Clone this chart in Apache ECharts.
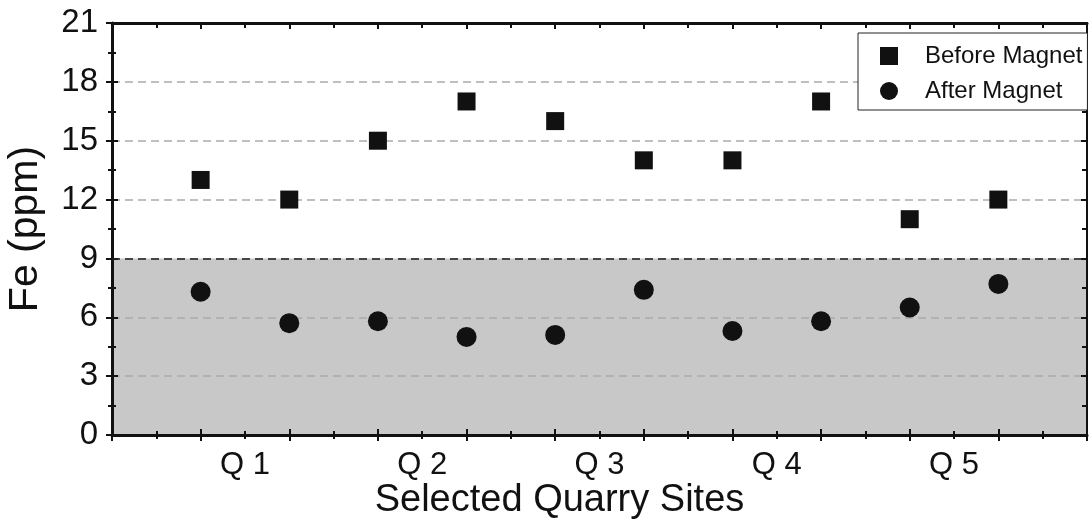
<!DOCTYPE html>
<html>
<head>
<meta charset="utf-8">
<script src="https://cdn.jsdelivr.net/npm/echarts@6/dist/echarts.min.js"></script>
<style>
  html, body { margin: 0; padding: 0; background: #fff; }
  #chart { width: 1089px; height: 523px; }
</style>
</head>
<body>
<div id="chart"></div>
<script>
// ---- data ----
const sites = ['Q 1', 'Q 2', 'Q 3', 'Q 4', 'Q 5'];
const samplePositions = [1, 2, 3, 4, 5, 6, 7, 8, 9, 10];
const beforeMagnet = [13, 12, 15, 17, 16, 14, 14, 17, 11, 12];
const afterMagnet = [7.3, 5.7, 5.8, 5.0, 5.1, 7.4, 5.3, 5.8, 6.5, 7.7];
const yTicks = [0, 3, 6, 9, 12, 15, 18, 21];
const limitValue = 9;
const seriesNames = ['Before Magnet', 'After Magnet'];

const FONT = 'Liberation Sans, Arial, Helvetica, sans-serif';
const INK = '#111111';

const chart = echarts.init(document.getElementById('chart'));

const xMin = 0, xMax = 11;
const yMin = yTicks[0], yMax = yTicks[yTicks.length - 1], yStep = yTicks[1] - yTicks[0];

function siteLabel(v) {
  const k = (v - 1.5) / 2;
  if (Number.isInteger(k) && k >= 0 && k < sites.length) return sites[k];
  return '';
}

const bandColors = yTicks.slice(0, -1).map(t => t < limitValue ? '#c8c8c8' : 'rgba(255,255,255,0)');

const baseX = { type: 'value', min: xMin, max: xMax, interval: 1, gridIndex: 0, splitLine: { show: false } };
const baseY = { type: 'value', min: yMin, max: yMax, interval: yStep, gridIndex: 0 };

const option = {
  animation: false,
  backgroundColor: '#fff',
  grid: { left: 112, right: 2, top: 23, bottom: 88, containLabel: false, outerBoundsMode: 'none' },
  legend: {
    orient: 'vertical',
    left: 858, top: 33,
    backgroundColor: '#fff',
    borderColor: '#222', borderWidth: 1, borderRadius: 0,
    padding: [11, 5, 7, 22],
    itemWidth: 18, itemHeight: 18, itemGap: 11,
    textStyle: { fontFamily: FONT, fontSize: 24, color: INK, padding: [0, 0, 0, 22] },
    data: [
      { name: seriesNames[0], icon: 'rect', itemStyle: { color: INK, opacity: 1 } },
      { name: seriesNames[1], icon: 'circle', itemStyle: { color: INK, opacity: 1 } }
    ]
  },
  xAxis: [
    Object.assign({}, baseX, {
      position: 'bottom',
      name: 'Selected Quarry Sites', nameLocation: 'middle', nameGap: 47,
      nameTextStyle: { fontFamily: FONT, fontSize: 38, color: INK, padding: [0, 80, 0, 0] },
      axisLine: { show: true, onZero: false, lineStyle: { color: INK, width: 3 } },
      axisTick: { show: true, inside: false, length: 6, lineStyle: { color: INK, width: 2 } },
      minorTick: { show: true, splitNumber: 2, length: 4, lineStyle: { color: INK, width: 2 } },
      axisLabel: { show: false }
    }),
    Object.assign({}, baseX, {
      position: 'bottom',
      axisLine: { show: false, onZero: false },
      axisTick: { show: true, inside: true, length: 6, lineStyle: { color: INK, width: 2 } },
      minorTick: { show: true, splitNumber: 2, length: 4, lineStyle: { color: INK, width: 2 } },
      axisLabel: { show: false }
    }),
    Object.assign({}, baseX, {
      position: 'bottom', interval: 0.5,
      axisLine: { show: false, onZero: false },
      axisTick: { show: false },
      axisLabel: { show: true, margin: 15, fontFamily: FONT, fontSize: 31, color: INK, formatter: siteLabel, showMinLabel: true, showMaxLabel: true }
    }),
    Object.assign({}, baseX, {
      position: 'top',
      axisLine: { show: true, onZero: false, lineStyle: { color: INK, width: 3 } },
      axisTick: { show: true, inside: true, length: 6, lineStyle: { color: INK, width: 2 } },
      minorTick: { show: true, splitNumber: 2, length: 5, lineStyle: { color: INK, width: 2 } },
      axisLabel: { show: false }
    })
  ],
  yAxis: [
    Object.assign({}, baseY, {
      position: 'left',
      name: 'Fe (ppm)', nameLocation: 'middle', nameGap: 66, nameRotate: 90,
      nameTextStyle: { fontFamily: FONT, fontSize: 41, color: INK },
      axisLine: { show: true, onZero: false, lineStyle: { color: INK, width: 3 } },
      axisTick: { show: true, inside: false, length: 6, lineStyle: { color: INK, width: 2 } },
      minorTick: { show: true, splitNumber: 2, length: 4, lineStyle: { color: INK, width: 2 } },
      axisLabel: { show: true, margin: 14, fontFamily: FONT, fontSize: 33, color: INK },
      splitLine: { show: true, lineStyle: { color: '#aaaaaa', width: 1.5, type: [8, 5] } },
      splitArea: { show: true, areaStyle: { color: bandColors } }
    }),
    Object.assign({}, baseY, {
      position: 'left',
      axisLine: { show: false, onZero: false },
      axisTick: { show: true, inside: true, length: 6, lineStyle: { color: INK, width: 2 } },
      minorTick: { show: true, splitNumber: 2, length: 4, lineStyle: { color: INK, width: 2 } },
      axisLabel: { show: false },
      splitLine: { show: false }
    }),
    Object.assign({}, baseY, {
      position: 'right',
      axisLine: { show: true, onZero: false, lineStyle: { color: INK, width: 2 } },
      axisTick: { show: true, inside: true, length: 6, lineStyle: { color: INK, width: 2 } },
      minorTick: { show: true, splitNumber: 2, length: 5, lineStyle: { color: INK, width: 2 } },
      axisLabel: { show: false },
      splitLine: { show: false }
    })
  ],
  series: [
    {
      name: seriesNames[0], type: 'scatter', xAxisIndex: 0, yAxisIndex: 0,
      symbol: 'rect', symbolSize: 18,
      itemStyle: { color: INK, opacity: 1 },
      data: samplePositions.map((x, i) => [x, beforeMagnet[i]]),
      z: 5
    },
    {
      name: seriesNames[1], type: 'scatter', xAxisIndex: 0, yAxisIndex: 0,
      symbol: 'circle', symbolSize: 20,
      itemStyle: { color: INK, opacity: 1 },
      data: samplePositions.map((x, i) => [x, afterMagnet[i]]),
      z: 5,
      markLine: {
        silent: true, symbol: 'none', label: { show: false },
        lineStyle: { color: '#222', width: 1.5, type: [8, 5] },
        data: [{ yAxis: limitValue }]
      }
    }
  ]
};

chart.setOption(option);
</script>
</body>
</html>
